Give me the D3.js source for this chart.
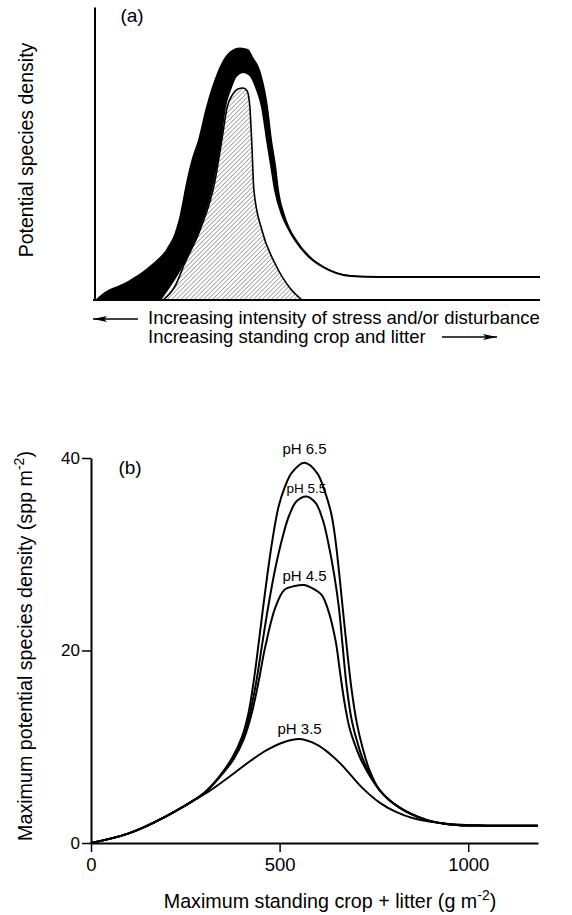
<!DOCTYPE html>
<html>
<head>
<meta charset="utf-8">
<script src="https://cdnjs.cloudflare.com/ajax/libs/d3/7.8.5/d3.min.js"></script>
<style>
  body { margin: 0; background: #fff; }
  text { font-family: "Liberation Sans", Arial, Helvetica, sans-serif; fill: #000; }
</style>
</head>
<body>
<div id="chart"></div>
<script>
// panel (a) - conceptual curves, arbitrary units (0-100)
var outerCurve = [[0,0],[1.57,2.4],[7.42,7.6],[12.81,14.4],[16.18,20.8],[17.98,27.2],[19.10,34.4],
                  [20.45,46.8],[21.80,56.8],[23.15,64],[24.94,77.2],[27.42,90.8],[29.21,97.2],
                  [30.79,100],[32.58,101],[34.38,100.4],[35.51,97.2],[37.30,90.8],[38.88,77.2],
                  [39.78,64],[40.67,54],[41.35,44],[42.70,34],[43.60,29.6],[45.39,24],[48.31,17.6],
                  [51.69,13.2],[57.30,10],[64.04,9.2],[100,9.2]];
var middleCurve = [[14.61,0],[19.89,14.8],[23.26,28],[26.63,48],[28.20,64],[29.21,77.2],[30.34,84],
                   [31.69,89.6],[33.26,91.2],[34.83,90],[36.40,84],[37.53,77.2],[38.65,64],[39.55,54],
                   [40.45,44],[42.02,34],[43.15,29.6],[44.94,24],[47.87,17.6],[51.24,13.2],[57.30,9.6],
                   [64.04,9.2],[100,9.2]];
var innerCurve = [[15.3,0],[18.0,5.6],[20.2,14.8],[23.6,28],[27.0,48],[28.5,64],[29.7,77.2],[31.0,82.4],
                  [32.1,84.4],[33.3,84.8],[34.2,83.6],[34.8,77.2],[35.3,60],[35.7,44],[37.5,28],
                  [40.4,14.8],[43.8,4.8],[46.5,0]];

// panel (b) - max standing crop + litter (g m-2) vs species density (spp m-2)
var pH65 = [[0,0],[100,1.0],[200,2.8],[300,5.2],[340,6.9],[375,8.9],[400,11.0],[418,13.6],[432,17.0],
            [444,20.6],[456,24.4],[468,28],[481,31.5],[497,34.9],[514,37],[533,38.5],[566,39.5],
            [600,38.4],[620,36.5],[637,34.2],[648,31.5],[658,28],[667,24.5],[676,21.1],[690,16.2],
            [705,12.4],[720,9.9],[737,7.7],[765,5.5],[817,3.7],[889,2.4],[958,1.9],[1050,1.8],[1185,1.8]];
var pH55 = [[0,0],[100,1.0],[200,2.8],[300,5.2],[340,6.85],[376,8.8],[402,10.9],[421,13.4],[437,16.5],
            [452,20.2],[470,24.6],[490,28.8],[508,31.8],[525,34],[545,35.5],[571,36.0],[596,35.3],
            [615,33.5],[630,31],[645,27.8],[657,24.5],[667,20.5],[678,16.2],[692,12.6],[708,10.2],
            [725,8.3],[765,5.5],[817,3.7],[889,2.4],[958,1.9],[1050,1.8],[1185,1.8]];
var pH45 = [[0,0],[100,1.0],[200,2.8],[300,5.2],[340,6.8],[378,8.7],[405,10.8],[425,13.3],[443,16.5],
            [462,20.4],[489,24.5],[513,26.3],[540,26.7],[566,26.8],[590,26.4],[611,25.8],[627,24.4],
            [648,21.1],[660,17.8],[672,14.6],[685,12.0],[698,10.4],[720,8.3],[765,5.5],[817,3.7],
            [889,2.4],[958,1.9],[1050,1.8],[1185,1.8]];
var pH35 = [[0,0],[100,1.0],[200,2.8],[275,4.5],[310,5.3],[381,7.3],[425,8.6],[468,9.7],[513,10.5],
            [553,10.8],[600,10.2],[632,9.3],[660,8.3],[690,7.0],[720,5.7],[765,4.2],[810,3.2],
            [852,2.6],[942,2.0],[1050,1.8],[1185,1.8]];
var seriesNames = ["pH 6.5", "pH 5.5", "pH 4.5", "pH 3.5"];
var seriesData = [pH65, pH55, pH45, pH35];
var yTicks = [0, 20, 40];
var xTicks = [0, 500, 1000];

var w = 572;
var h = 915;

var svg = d3.select("#chart")
            .append("svg")
            .attr("width", w)
            .attr("height", h);

svg.append("rect").attr("width", w).attr("height", h).attr("fill", "#fff");

// hatching for the inner curve
var defs = svg.append("defs");
defs.append("pattern")
    .attr("id", "hatch")
    .attr("patternUnits", "userSpaceOnUse")
    .attr("width", 3.2)
    .attr("height", 3.2)
    .attr("patternTransform", "rotate(45)")
    .append("line")
    .attr("x1", 0).attr("y1", 0)
    .attr("x2", 0).attr("y2", 3.2)
    .attr("stroke", "#333")
    .attr("stroke-width", 0.8);

/******** panel (a) ********/
var xa = d3.scaleLinear().domain([0, 100]).range([95, 540]);
var ya = d3.scaleLinear().domain([0, 100]).range([300, 50]);

var areaA = d3.area()
              .x(function (d) {return xa(d[0]);})
              .y0(ya(0))
              .y1(function (d) {return ya(d[1]);})
              .curve(d3.curveMonotoneX);
var lineA = d3.line()
              .x(function (d) {return xa(d[0]);})
              .y(function (d) {return ya(d[1]);})
              .curve(d3.curveMonotoneX);

var ga = svg.append("g");

ga.append("path").datum(outerCurve).attr("d", areaA).attr("fill", "#000");
ga.append("path").datum(middleCurve).attr("d", areaA).attr("fill", "#fff");
ga.append("path").datum(middleCurve).attr("d", lineA)
  .attr("fill", "none").attr("stroke", "#000").attr("stroke-width", 2);
ga.append("path").datum(innerCurve).attr("d", areaA).attr("fill", "url(#hatch)");
ga.append("path").datum(innerCurve).attr("d", lineA)
  .attr("fill", "none").attr("stroke", "#000").attr("stroke-width", 1.6);

// axes (no ticks)
ga.append("line")
  .attr("x1", xa(0)).attr("x2", xa(0))
  .attr("y1", ya(0) + 1).attr("y2", ya(117))
  .attr("stroke", "#000").attr("stroke-width", 2);
ga.append("line")
  .attr("x1", xa(0) - 2).attr("x2", xa(100))
  .attr("y1", ya(0)).attr("y2", ya(0))
  .attr("stroke", "#000").attr("stroke-width", 2);

ga.append("text")
  .attr("x", 132).attr("y", 22)
  .attr("text-anchor", "middle")
  .attr("font-size", 19)
  .text("(a)");

ga.append("text")
  .attr("transform", "translate(33,150) rotate(-90)")
  .attr("text-anchor", "middle")
  .attr("font-size", 19.5)
  .text("Potential species density");

// arrow captions
defs.append("marker")
    .attr("id", "arrowhead")
    .attr("viewBox", "0 0 14 6")
    .attr("refX", 14).attr("refY", 3)
    .attr("markerWidth", 14).attr("markerHeight", 6)
    .attr("markerUnits", "userSpaceOnUse")
    .attr("orient", "auto")
    .append("path")
    .attr("d", "M0,0 L14,3 L0,6 L3,3 Z")
    .attr("fill", "#000");

ga.append("line")
  .attr("x1", 138).attr("x2", 93).attr("y1", 319).attr("y2", 319)
  .attr("stroke", "#000").attr("stroke-width", 1.3)
  .attr("marker-end", "url(#arrowhead)");
ga.append("text")
  .attr("x", 148).attr("y", 324)
  .attr("font-size", 18.5)
  .text("Increasing intensity of stress and/or disturbance");
ga.append("text")
  .attr("x", 148).attr("y", 343)
  .attr("font-size", 18.5)
  .text("Increasing standing crop and litter");
ga.append("line")
  .attr("x1", 442).attr("x2", 497).attr("y1", 337).attr("y2", 337)
  .attr("stroke", "#000").attr("stroke-width", 1.3)
  .attr("marker-end", "url(#arrowhead)");

/******** panel (b) ********/
var xb = d3.scaleLinear().domain([0, 1185]).range([91, 538]);
var yb = d3.scaleLinear().domain([0, 40]).range([843, 458]);

var gb = svg.append("g");

var xAxis = d3.axisBottom(xb)
              .tickValues(xTicks)
              .tickFormat(d3.format("d"))
              .tickSize(9)
              .tickPadding(6)
              .tickSizeOuter(0);
var yAxis = d3.axisLeft(yb)
              .tickValues(yTicks)
              .tickSize(9)
              .tickPadding(2)
              .tickSizeOuter(0);

gb.append("g")
  .attr("transform", "translate(0," + yb(0) + ")")
  .call(xAxis)
  .call(function (g) {
    g.select(".domain").attr("stroke-width", 2);
    g.selectAll(".tick line").attr("stroke-width", 1.5);
    g.selectAll(".tick text").attr("font-size", 18.5).attr("font-family", null);
  });

gb.append("g")
  .attr("transform", "translate(" + xb(0) + ",0)")
  .call(yAxis)
  .call(function (g) {
    g.select(".domain").attr("stroke-width", 2);
    g.selectAll(".tick line").attr("stroke-width", 1.5);
    g.selectAll(".tick text").attr("font-size", 17).attr("font-family", null);
  });

var lineB = d3.line()
              .x(function (d) {return xb(d[0]);})
              .y(function (d) {return yb(d[1]);})
              .curve(d3.curveCatmullRom.alpha(0.5));

gb.selectAll(".series")
  .data(seriesData)
  .enter()
  .append("path")
  .attr("class", "series")
  .attr("d", lineB)
  .attr("fill", "none")
  .attr("stroke", "#000")
  .attr("stroke-width", 2);

// label each curve above its peak
var labelGap = [9, 4, 4, 5];
gb.selectAll(".plabel")
  .data(seriesData)
  .enter()
  .append("text")
  .attr("class", "plabel")
  .attr("x", function (d) {
    var p = d3.greatest(d, function (v) {return v[1];});
    return xb(p[0]);
  })
  .attr("y", function (d, i) {
    var p = d3.greatest(d, function (v) {return v[1];});
    return yb(p[1]) - labelGap[i];
  })
  .attr("text-anchor", "middle")
  .attr("font-size", function (d, i) {return i == 1 ? 13.5 : 15;})
  .text(function (d, i) {return seriesNames[i];});

gb.append("text")
  .attr("x", 130).attr("y", 474)
  .attr("text-anchor", "middle")
  .attr("font-size", 19)
  .text("(b)");

var xlab = gb.append("text")
             .attr("x", 330).attr("y", 908)
             .attr("text-anchor", "middle")
             .attr("font-size", 19.7);
xlab.append("tspan").text("Maximum standing crop + litter (g m");
xlab.append("tspan").attr("dy", -8).attr("font-size", 14).text("-2");
xlab.append("tspan").attr("dy", 8).text(")");

var ylab = gb.append("text")
             .attr("transform", "translate(32,646) rotate(-90)")
             .attr("text-anchor", "middle")
             .attr("font-size", 19.7);
ylab.append("tspan").text("Maximum potential species density (spp m");
ylab.append("tspan").attr("dy", -8).attr("font-size", 14).text("-2");
ylab.append("tspan").attr("dy", 8).text(")");
</script>
</body>
</html>
